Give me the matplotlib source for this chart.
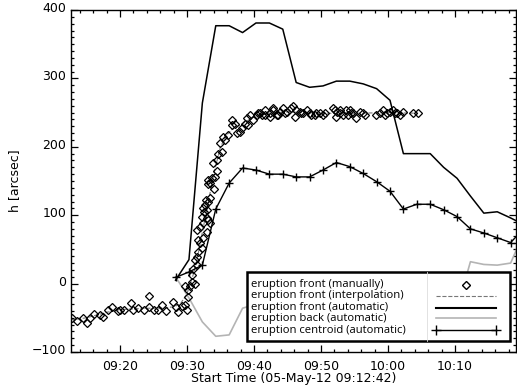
import numpy as np
import matplotlib
matplotlib.use('Agg')
import matplotlib.pyplot as plt
import matplotlib.transforms as mtransforms
from matplotlib.patches import Rectangle
from matplotlib.ticker import MultipleLocator, FuncFormatter

# time axis in minutes after 09:00 (start 09:12:42)
t_start, t_end = 12.7, 79.1

# eruption front, manual measurements
man_t = [12.84, 13.66, 14.43, 15.07, 15.6, 16.12, 17.06, 17.46, 18.16, 18.8,
         19.66, 20.04, 20.64, 21.64, 21.9, 22.64, 23.54, 24.28, 24.37, 25.03,
         25.72, 26.22, 26.87, 27.87, 28.36, 28.7, 29.21, 29.7, 29.96, 30.19,
         29.7, 30.2, 30.45, 30.7, 30.7, 30.85, 31.2, 31.2, 31.45, 31.45,
         31.7, 31.7, 31.95, 31.45, 31.95, 32.2, 32.45, 32.45, 32.2, 32.45,
         32.6, 32.7, 32.95, 32.95, 32.95, 32.85, 33.2, 33.45, 33.2, 33.45,
         33.1, 33.2, 33.45, 33.7, 33.95, 34.05, 34.2, 34.45, 34.45, 34.7,
         34.95, 35.2, 35.4, 35.7, 36.15, 36.65, 36.65, 37.15, 37.4, 37.9,
         38.15, 38.65, 38.9, 39.15, 39.4, 39.9, 40.5, 40.64, 40.85, 41.15,
         41.6, 41.64, 42.34, 42.39, 42.84, 42.88, 43.39, 43.58, 43.88, 44.33,
         44.58, 44.88, 45.57, 45.87, 46.07, 46.34, 46.87, 47.06, 47.36, 47.84,
         48.31, 48.58, 49.1, 49.3, 49.85, 50.3, 50.6, 51.84, 52.04, 52.28,
         52.34, 52.79, 52.84, 53.28, 53.78, 54.03, 54.33, 54.52, 54.82, 55.3,
         55.78, 56.31, 56.52, 58.28, 58.76, 59.25, 59.5, 59.85, 60.25, 60.79,
         61.0, 61.3, 61.75, 62.31, 63.73, 64.48]
man_h = [-51, -54, -50, -58, -51, -44, -46, -49, -39, -34,
         -40, -38, -39, -29, -39, -36, -39, -18, -34, -39,
         -39, -31, -40, -27, -34, -41, -33, -31, -39, -20,
         -3, -9, -4, 3, 13, 22, 0, 35, 27, 39,
         46, 64, 59, 78, 83, 52, 66, 88, 98, 110,
         105, 115, 76, 96, 108, 122, 120, 125, 93, 88,
         146, 151, 147, 154, 176, 139, 156, 164, 181, 190,
         205, 193, 215, 210, 217, 239, 232, 234, 220, 222,
         227, 234, 242, 232, 246, 239, 246, 249, 249, 246,
         246, 254, 244, 249, 254, 256, 246, 246, 251, 256,
         249, 251, 256, 259, 244, 254, 251, 249, 249, 254,
         249, 246, 246, 249, 249, 246, 249, 256, 254, 244,
         251, 249, 254, 246, 254, 246, 254, 249, 249, 242,
         251, 249, 246, 246, 249, 254, 246, 249, 251, 254,
         249, 249, 246, 251, 249, 249]

# eruption front, interpolated through the manual points
interp_t = [12.7, 15, 18, 20, 22, 24, 26, 28, 29, 30, 30.5, 31, 31.5, 32,
            32.5, 33, 33.5, 34, 34.5, 35, 36, 37, 38, 39, 40, 42, 45, 50,
            55, 60, 64.5]
interp_h = [-53, -50, -42, -38, -37, -36, -36, -34, -30, -15, 0, 15, 35, 60,
            85, 110, 135, 160, 180, 200, 218, 228, 232, 238, 244, 249, 251,
            249, 249, 250, 249]

# automatic detections, 2 min cadence
auto_t = [28.3, 30.3, 32.3, 34.3, 36.3, 38.3, 40.3, 42.3, 44.3, 46.3, 48.3,
          50.3, 52.3, 54.3, 56.3, 58.3, 60.3, 62.3, 64.3, 66.3, 68.3, 70.3,
          72.3, 74.3, 76.3, 78.3, 80.3]
front_h = [5, 35, 264, 377, 377, 367, 381, 381, 372, 294, 287,
           289, 296, 296, 292, 285, 268, 190, 190, 190, 170, 154,
           128, 103, 105, 96, 86]
back_h = [10, -21, -56, -77, -75, -36, -30, -25, -22, -20, -22,
          -25, -28, -30, -32, -35, -35, -36, -38, -38, -37, -37,
          32, 28, 27, 30, 75]
centroid_h = [9, 17, 27, 109, 147, 169, 166, 160, 160, 156, 156,
              166, 177, 171, 161, 149, 135, 109, 116, 116, 108, 98,
              80, 74, 67, 60, 81]

labels = ['eruption front (manually)', 'eruption front (interpolation)',
          'eruption front (automatic)', 'eruption back (automatic)',
          'eruption centroid (automatic)']

plt.rcParams['font.family'] = 'DejaVu Sans'
fig = plt.figure(figsize=(5.17, 3.85), dpi=100)
ax = fig.add_axes([71 / 517, 33 / 385, 445 / 517, 342 / 385])

ax.plot(interp_t, interp_h, ls='--', color='#777777', lw=0.8, zorder=1)
ax.plot(auto_t, back_h, color='#b4b4b4', lw=1.2, zorder=2)
ax.plot(auto_t, front_h, color='black', lw=1.1, zorder=3)
ax.plot(auto_t, centroid_h, color='black', lw=1.0, marker='+', ms=6,
        mew=1.0, zorder=3)
ax.plot(man_t, man_h, ls='none', marker='D', ms=4.4, mfc='none',
        mec='black', mew=0.9, zorder=4)

ax.set_xlim(t_start, t_end)
ax.set_ylim(-100, 400)
ax.xaxis.set_major_locator(MultipleLocator(10))
ax.xaxis.set_minor_locator(MultipleLocator(2))
ax.yaxis.set_major_locator(MultipleLocator(100))
ax.yaxis.set_minor_locator(MultipleLocator(10))
ax.xaxis.set_major_formatter(
    FuncFormatter(lambda m, _: f'{9 + int(m // 60):02d}:{int(m % 60):02d}'))
ax.tick_params(which='both', direction='in', top=True, right=True,
               labelsize=9, width=0.9)
ax.tick_params(which='major', length=5)
ax.tick_params(which='minor', length=2.5)
ax.tick_params(axis='x', pad=6)
for sp in ax.spines.values():
    sp.set_linewidth(1.0)

# y labels sit a little above their ticks
shift = mtransforms.ScaledTranslation(0, 3 / 100, fig.dpi_scale_trans)
for lab in ax.get_yticklabels():
    lab.set_transform(lab.get_transform() + shift)

ax.set_xlabel('Start Time (05-May-12 09:12:42)', fontsize=9, labelpad=-1)
ax.set_ylabel('h [arcsec]', fontsize=9, labelpad=8)

# legend box: text on the left, symbols on the right
x0, x1, xdiv = 0.3955, 0.9865, 0.80
y0, y1 = 0.032, 0.234
ax.add_patch(Rectangle((x0, y0), x1 - x0, y1 - y0, transform=ax.transAxes,
                       facecolor='white', edgecolor='black', lw=1.8,
                       zorder=10))
ax.plot([xdiv, xdiv], [y0, y1], transform=ax.transAxes, color='#dddddd',
        lw=0.6, zorder=11)
rows = [0.197, 0.164, 0.129, 0.098, 0.063]
hx0, hx1 = 0.82, 0.955
for lab, ry in zip(labels, rows):
    ax.text(x0 + 0.008, ry, lab, transform=ax.transAxes, fontsize=8.1,
            family='Open Sans', va='center', ha='left', zorder=12)
ax.plot([(hx0 + hx1) / 2], [rows[0]], transform=ax.transAxes, ls='none',
        marker='D', ms=4.4, mfc='none', mec='black', mew=1.0, zorder=12)
ax.plot([hx0, hx1], [rows[1]] * 2, transform=ax.transAxes, ls='--',
        color='#777777', lw=0.8, zorder=12)
ax.plot([hx0, hx1], [rows[2]] * 2, transform=ax.transAxes, color='black',
        lw=1.5, zorder=12)
ax.plot([hx0, hx1], [rows[3]] * 2, transform=ax.transAxes, color='#b4b4b4',
        lw=1.2, zorder=12)
ax.plot([hx0, hx1], [rows[4]] * 2, transform=ax.transAxes, color='black',
        lw=1.0, marker='+', ms=7, mew=1.0, zorder=12)

fig.savefig('out.png', dpi=100)
